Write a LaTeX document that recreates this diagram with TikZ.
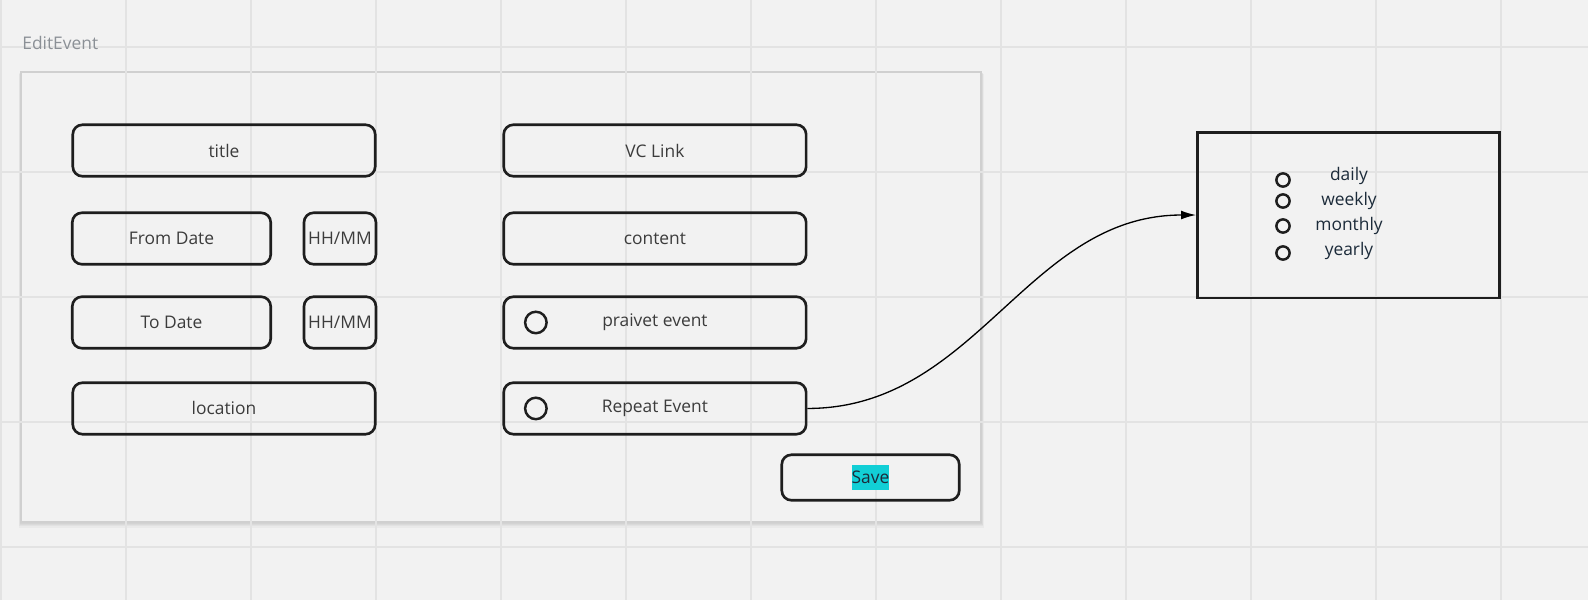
\documentclass[tikz,border=0pt]{standalone}
\usepackage{fontspec}
\setmainfont{Open Sans}
\usetikzlibrary{positioning, arrows.meta}

\definecolor{board}{HTML}{F2F2F2}
\definecolor{gridline}{HTML}{E3E3E3}
\definecolor{framegray}{HTML}{D0D0D0}
\definecolor{ink}{HTML}{1E1E1E}
\definecolor{label}{HTML}{3C3C3C}
\definecolor{navy}{HTML}{1C2B3A}
\definecolor{caption}{HTML}{8B9096}
\definecolor{hilite}{HTML}{12CFD6}

\begin{document}
\begin{tikzpicture}
	[x=0.02cm, y=-0.02cm, on grid, >={Latex[length=8.5pt,width=5pt]},
	 font=\fontsize{9.9}{11.5}\selectfont,
	 field/.style={draw=ink, line width=1.5pt, rounded corners=5.5pt, minimum height=1.03cm, text=label},
	 wide/.style={field, minimum width=6.05cm},
	 datebox/.style={field, minimum width=3.97cm},
	 timebox/.style={field, minimum width=1.44cm, inner xsep=0pt},
	 savebox/.style={field, minimum width=3.55cm, minimum height=0.91cm},
	 radio/.style={circle, draw=ink, line width=1.4pt, minimum size=0.43cm, inner sep=0pt},
	 optdot/.style={circle, draw=ink, line width=1.4pt, minimum size=0.265cm, inner sep=0pt},
	 opttext/.style={text=navy}]
   \useasboundingbox (0,0) rectangle (1588,600);
   \fill[board] (0,0) rectangle (1588,600);
   % frame of the form, with a soft shadow
   \foreach \s in {1,...,5}
     \fill[black, opacity=0.03] (21-\s*0.5,72+\s*0.3) rectangle (981+\s*0.5,522+\s*1.1);
   \path[fill=board, draw=framegray, line width=0.6pt] (21,72) rectangle (981,522);
   \foreach \gx in {1,126,...,1501} \draw[gridline, line width=0.8pt] (\gx,0) -- (\gx,600);
   \foreach \gy in {47,172,...,547} \draw[gridline, line width=0.8pt] (0,\gy) -- (1588,\gy);
   \node[text=caption, anchor=base west, inner xsep=0pt] (caption) at (22,49) {EditEvent};

   % left column
   \node[wide] (title) at (224,150.5) {title};
   \node[datebox] (from) at (171.5,238.5) {From Date};
   \node[timebox] (fromtime) [right=3.37cm of from] {HH/MM};
   \node[datebox] (to) [below=1.68cm of from] {To Date};
   \node[timebox] (totime) [right=3.37cm of to] {HH/MM};
   \node[wide] (location) [below=5.16cm of title] {location};

   % right column
   \node[wide] (vclink) [right=8.62cm of title] {VC Link};
   \node[wide] (content) [below=1.76cm of vclink] {content};
   \node[wide] (praivet) [below=1.68cm of content] {praivet event};
   \node[wide] (repeat) [below=1.72cm of praivet] {Repeat Event};
   \node[radio] (praivet_dot) [right=0.43cm of praivet.west] {};
   \node[radio] (repeat_dot) [right=0.43cm of repeat.west] {};
   \node[savebox] (save) at (870.5,477.5) {};
   \node[fill=hilite, text=navy, inner xsep=0pt, minimum height=0.5cm] (save_text) at (save) {Save};

   % repeat options
   \node[draw=ink, line width=1.7pt, minimum width=6.04cm, minimum height=3.32cm] (opts) at (1348.5,215) {};
   \foreach \name/\dy/\ty in {daily/180/176, weekly/201/201, monthly/226/226, yearly/253/251} {
     \node[optdot] (dot_\name) at (1283,\dy) {};
     \node[opttext] (lbl_\name) at (1349,\ty) {\name};
   }

    \path[->, line width=0.75pt] 
    (repeat) edge [out=0, in=180] (opts);
\end{tikzpicture}
\end{document}
